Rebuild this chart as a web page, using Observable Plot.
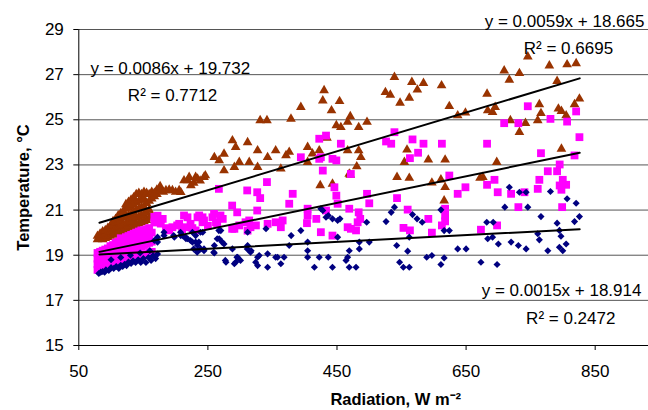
<!DOCTYPE html>
<html>
<head>
<meta charset="utf-8">
<script src="https://cdn.jsdelivr.net/npm/d3@7"></script>
<script src="https://cdn.jsdelivr.net/npm/@observablehq/plot@0.6"></script>
<style>
  html, body { margin: 0; padding: 0; background: #fff; }
  #chart { width: 648px; height: 410px; }
</style>
</head>
<body>
<div id="chart"></div>
<script>
// ---- data (radiation W m-2, temperature °C) ----
const xTicks = [50, 250, 450, 650, 850];
const yTicks = [15, 17, 19, 21, 23, 25, 27, 29];

const blueSeries = [
[81,18.19],[84,18.25],[87,18.28],[90,18.25],[92,18.35],[96.5,18.32],[100,18.45],[104,18.41],[108,18.5],[112,18.41],[115,18.55],[118,18.5],[121,18.6],[124,18.54],[127,18.7],[131,18.63],[134,18.75],[138,18.68],[142,18.8],[146,18.68],[150,18.85],[154,18.68],[158,18.9],[162,18.77],[165,18.98],[169,18.85],[172,19.05],
[100,18.8],[115,18.9],[130,19.0],[145,19.1],[160,19.2],
[167,19.65],[172,19.58],[172,19.8],[182,19.87],[182,20.02],[197,19.87],[198,19.8],[207.6,20.02],[208,19.87],[211,19.87],[215.3,19.8],[216,19.73],[218.5,19.73],[223,19.65],[226,20.02],[226,19.58],[228,19.28],[231,19.58],[231,19.87],[233.4,19.13],[234,19.43],[234,19.2],[236,19.58],[238.5,20.02],[239,19.28],[242,20.02],[244,19.28],[244,19.2],[259,19.13],[260,19.43],[260,19.1],[264.4,19.73],[267,20.09],[267.5,19.73],[270,20.09],[272,19.58],[275,19.5],[277,18.77],[278,18.69],[288,19.28],[291,18.62],[293,18.69],[295,18.91],[296,18.91],[300.5,18.77],[311.5,20.02],[311.5,19.43],[311,19.28],[316,19.13],[317,19.2],[324,18.69],[327,18.91],[327,18.54],[329.5,18.99],[340,20.17],[342.5,19.06],[342.5,18.47],[355,18.91],[358,18.91],[363,18.62],[368,18.91],[376,19.43],[379,19.87],[394,20.09],[404.5,19.58],[404.5,19.2],[404.5,18.91],[415,18.47],[422.5,18.91],[425,21.06],[428,20.98],[433,20.68],[436.5,20.76],[436.5,18.91],[443,20.61],[443,18.47],[451,20.54],[451,19.8],[454.6,20.61],[464,18.77],[466.5,18.91],[469,19.2],[469,18.47],[479.5,18.47],[484.6,19.58],[484.6,19.28],[496,20.46],[500,19.58],[526,20.49],[534,20.9],[539,21.13],[542.5,19.43],[547,18.69],[552.8,18.47],[559.5,19.18],[562,18.47],[562,19.8],[567,20.8],[574,20.61],[582,20.46],[589,18.91],[597,18.99],[611,18.59],[611,21.01],[616,18.88],[616,20.09],[624,20.09],[637,19.28],[650,19.28],[673,18.69],[682,20.46],[683.5,19.73],[691,19.8],[692,20.46],[698,18.59],[700,19.5],[710,21.13],[717,22.01],[719.7,19.58],[731,19.43],[732.6,21.79],[743,21.79],[743,19.28],[745.6,21.13],[761,19.95],[763.5,19.68],[766,20.71],[776.6,19.2],[780.7,21.82],[791,20.42],[794.6,20.1],[794.6,19.35],[797,19.84],[799.8,19.2],[805,19.5],[806.5,21.5],[818,20.49],[820.5,21.3],[825.6,20.71]
];

const magentaSeries = [
[79,18.35],[79,18.6],[79,18.85],[79,19.1],[83,18.35],[83,18.6],[83,18.85],[83,19.15],[87,18.4],[87,18.65],[87,18.9],[87,19.2],[91,18.45],[91,18.7],[91,18.95],[91,19.25],[95,18.5],[95,18.75],[95,19.0],[95,19.3],[99,18.55],[99,18.8],[99,19.1],[99,19.4],[103,18.6],[103,18.85],[103,19.15],[103,19.45],[107,18.65],[107,18.9],[107,19.2],[107,19.55],[111,18.7],[111,18.95],[111,19.25],[111,19.6],[115,18.75],[115,19.0],[115,19.3],[115,19.75],[119,18.8],[119,19.05],[119,19.35],[119,19.7],[123,18.8],[123,19.1],[123,19.4],[123,19.8],[127,18.85],[127,19.15],[127,19.5],[127,19.85],[131,18.85],[131,19.2],[131,19.55],[131,19.9],[135,18.9],[135,19.25],[135,19.6],[135,19.95],[139,18.9],[139,19.3],[139,19.65],[139,20.0],[143,18.95],[143,19.35],[143,19.7],[143,20.05],[147,18.95],[147,19.4],[147,19.75],[147,20.1],[151,19.0],[151,19.45],[151,19.8],[151,20.1],[155,19.05],[155,19.5],[155,19.85],[155,20.15],[159,19.1],[159,19.55],[159,19.9],[159,20.2],[163,19.15],[163,19.6],[163,20.0],[167,20.45],[167,20.7],[172,20.5],[172,20.75],[177,20.4],[177,20.6],
[180,20.61],[185,20.2],[190,20.1],[195,20.24],[202.4,20.32],[205.5,20.39],[210,20.15],[213,20.76],[215.3,20.24],[218.4,20.68],[223.1,20.39],[226,20.2],[231,20.1],[233.9,20.68],[236.5,20.76],[241.7,20.68],[241.7,20.46],[244,20.54],[250,20.3],[257,20.68],[259.5,20.83],[262.5,20.46],[264.4,20.39],[267,21.94],[269.5,20.76],[273,20.61],[287.6,21.2],[287.6,20.17],[291,20.17],[295.4,20.9],[298.6,20.32],[308.3,20.46],[310.9,21.87],[311.5,20.09],[314,20.54],[316,20.24],[324.4,20.32],[326.4,20.98],[326.4,21.79],[331,21.53],[341.5,22.24],[342.5,20.39],[355,20.46],[363,20.24],[365.8,20.54],[376,21.28],[381.4,21.72],[394,23.34],[403.5,20.42],[404.5,21.06],[404.5,20.76],[418,20.61],[422.5,23.27],[422.5,24.16],[425,20.02],[425,23.34],[428,22.75],[433,24.3],[433,20.98],[443,23.27],[443,19.87],[446,22.01],[449,21.64],[449,23.2],[451,21.28],[456,23.94],[466.5,20.24],[469,21.06],[471.5,22.6],[471.5,20.17],[479.5,20.1],[482,20.46],[483.6,20.9],[486,20.61],[496.5,21.72],[500,21.3],[526,24.04],[534,23.94],[539,24.45],[543,21.53],[553,20.21],[559.5,21.02],[563,23.3],[563,20.1],[567,24.13],[575.6,23.54],[584,23.94],[591.5,20.61],[597,20.0],[612.5,23.94],[612.5,20.32],[617.5,21.06],[617.5,20.76],[617.5,20.5],[624,22.53],[637,21.72],[649,22.01],[673,20.13],[682.5,23.94],[682.5,22.12],[694,22.34],[698,20.32],[699,21.79],[709,24.85],[719.7,21.72],[731,24.85],[731,21.13],[740.4,21.79],[745.6,25.6],[761,21.94],[763.5,22.34],[766,23.52],[776.6,22.72],[780.7,25.04],[791,22.72],[795,23.02],[795,22.09],[797.7,21.9],[798.8,21.13],[799.8,22.34],[805,22.12],[806.5,24.92],[818,23.42],[820.5,25.37],[825.6,24.23]
];

const brownSeries = [
[79,19.7],[79,19.85],[83,19.75],[83,19.95],[87,19.7],[87,19.9],[87,20.05],[91,19.75],[91,19.95],[91,20.1],[95,19.8],[95,20.0],[95,20.2],[99,19.85],[99,20.05],[99,20.3],[103,19.9],[103,20.1],[103,20.35],[103,20.5],[107,19.95],[107,20.2],[107,20.45],[107,20.6],[111,20.0],[111,20.25],[111,20.5],[111,20.75],[115,20.05],[115,20.3],[115,20.55],[115,20.85],[119,20.1],[119,20.35],[119,20.65],[119,20.95],[123,20.15],[123,20.4],[123,20.7],[123,21.05],[123,21.25],[127,20.2],[127,20.45],[127,20.75],[127,21.1],[127,21.35],[131,20.25],[131,20.5],[131,20.8],[131,21.15],[131,21.45],[135,20.3],[135,20.6],[135,20.9],[135,21.25],[135,21.55],[139,20.35],[139,20.65],[139,21.0],[139,21.35],[139,21.7],[143,20.4],[143,20.7],[143,21.05],[143,21.4],[143,21.75],[147,20.45],[147,20.75],[147,21.1],[147,21.45],[147,21.7],[151,20.5],[151,20.8],[151,21.15],[151,21.5],[151,21.8],[155,20.55],[155,20.9],[155,21.3],[155,21.75],[159,20.65],[159,21.0],[159,21.4],[159,21.7],[163,20.75],[163,21.5],[163,21.8],[167,21.6],[167,21.75],[171,21.7],[171,21.9],[176,22.05],[176,21.85],[181,21.8],[185,21.87],[190,21.9],[195,21.87],[200,21.8],[205.5,21.87],[208,21.79],[213,22.31],[218.5,22.31],[221,22.46],[223.6,22.09],[228,22.2],[231,22.46],[234,22.38],[238,22.3],[244,22.46],[246,22.53],
[260,23.34],[267.5,23.2],[275,23.49],[275,22.75],[288,24.08],[291,22.9],[293,23.79],[298.6,23.12],[311.5,24.0],[314,23.12],[327,23.64],[327,22.9],[331,24.97],[341.5,24.97],[342.5,23.34],[355,23.64],[363,22.83],[371,23.42],[376,23.57],[378.7,25.04],[394,25.56],[404.5,23.79],[404.5,23.12],[412,23.5],[422.5,23.64],[424,22.09],[428,25.85],[430,26.3],[434.5,24.2],[441.5,25.41],[443,22.16],[449,24.75],[454,25.82],[456,24.67],[466.5,24.9],[466.5,23.64],[469,22.6],[470.6,25.15],[470.6,22.56],[480.6,22.93],[483.6,24.67],[483.6,23.64],[487,23.34],[496.5,24.9],[525,26.22],[532.6,26.1],[539,26.89],[543,22.46],[547.7,25.75],[554.4,23.12],[558.5,23.67],[562,25.97],[562,22.42],[566,26.67],[574.5,26.33],[584,26.62],[591.5,23.23],[597,22.21],[611,22.35],[612,26.52],[616,21.42],[617.5,23.23],[617.5,22.01],[624,25.6],[637,25.19],[649,25.31],[671.6,22.42],[676,22.46],[682.5,26.15],[683.5,25.41],[691,25.34],[695,25.56],[697.5,23.12],[709,27.18],[717,26.77],[718.6,24.97],[732.6,27.06],[732.6,24.45],[742,24.85],[745.6,27.8],[761,24.97],[763.5,25.68],[766,25.29],[779,27.4],[791,26.71],[793,25.49],[797.7,25.38],[797.7,23.71],[805,25.19],[806.5,27.45],[818,25.68],[820.5,27.5],[825.6,25.93]
];

// trendlines as printed on the chart (slope, intercept) and their x extent
const trendRange = [82, 826];
const trendBrown = {slope: 0.0086, intercept: 19.732, eq: "y = 0.0086x + 19.732", r2: "R² = 0.7712"};
const trendMagenta = {slope: 0.0059, intercept: 18.665, eq: "y = 0.0059x + 18.665", r2: "R² = 0.6695"};
const trendBlue = {slope: 0.0015, intercept: 18.914, eq: "y = 0.0015x + 18.914", r2: "R² = 0.2472"};
const trendPts = t => trendRange.map(x => ({x, y: t.slope * x + t.intercept}));

const colors = {blue: "#000080", magenta: "#FF00FF", brown: "#993300"};
const FONT = "'Liberation Sans', Arial, Helvetica, sans-serif";

const px = d => d[0], py = d => d[1];

const chart = Plot.plot({
  width: 648,
  height: 410,
  marginLeft: 78.3,
  marginRight: 0,
  marginTop: 29,
  marginBottom: 65,
  style: {fontFamily: FONT, fontSize: "17px", color: "#000", background: "#fff", overflow: "visible"},
  x: {domain: [50, 932.6]},
  y: {domain: [15, 29]},
  marks: [
    Plot.gridY(yTicks, {stroke: "#555", strokeOpacity: 1, strokeWidth: 1}),
    Plot.axisY({ticks: yTicks, tickSize: 5, tickPadding: 10, label: null, fontSize: 17, stroke: "#000"}),
    Plot.axisX({ticks: xTicks, tickSize: 5, tickPadding: 14, label: null, fontSize: 17, stroke: "#000"}),
    Plot.ruleX([50], {stroke: "#000", strokeWidth: 1}),
    Plot.ruleY([15], {stroke: "#000", strokeWidth: 1}),
    Plot.dot(brownSeries, {x: px, y: py, symbol: "triangle", r: 3.6, fill: colors.brown, stroke: "none"}),
    Plot.dot(magentaSeries, {x: px, y: py, symbol: "square", r: 4.4, fill: colors.magenta, stroke: "none"}),
    Plot.dot(blueSeries, {x: px, y: py, symbol: "diamond2", r: 3.2, fill: colors.blue, stroke: "none"}),
    Plot.line(trendPts(trendBrown), {x: "x", y: "y", stroke: "#000", strokeWidth: 2}),
    Plot.line(trendPts(trendMagenta), {x: "x", y: "y", stroke: "#000", strokeWidth: 2}),
    Plot.line(trendPts(trendBlue), {x: "x", y: "y", stroke: "#000", strokeWidth: 2}),
    // equation labels
    Plot.text([trendBrown.eq], {x: 68.1, y: 27.25, text: d => d, textAnchor: "start", fontSize: 17}),
    Plot.text([trendBrown.r2], {x: 126, y: 26.09, text: d => d, textAnchor: "start", fontSize: 17}),
    Plot.text([trendMagenta.eq], {x: 926.4, y: 29.35, text: d => d, textAnchor: "end", fontSize: 17}),
    Plot.text([trendMagenta.r2], {x: 739.4, y: 28.16, text: d => d, textAnchor: "start", fontSize: 17}),
    Plot.text([trendBlue.eq], {x: 921.7, y: 17.45, text: d => d, textAnchor: "end", fontSize: 17}),
    Plot.text([trendBlue.r2], {x: 743, y: 16.2, text: d => d, textAnchor: "start", fontSize: 17}),
    // axis titles
    Plot.text(["Radiation, W m⁻²"], {x: 541, y: 15, dy: 54, text: d => d, fontWeight: "bold", fontSize: 16.5}),
    Plot.text(["Temperature, °C"], {x: 50, y: 22, dx: -55, text: d => d, rotate: -90, fontWeight: "bold", fontSize: 16.5})
  ]
});
document.getElementById("chart").appendChild(chart);
</script>
</body>
</html>
